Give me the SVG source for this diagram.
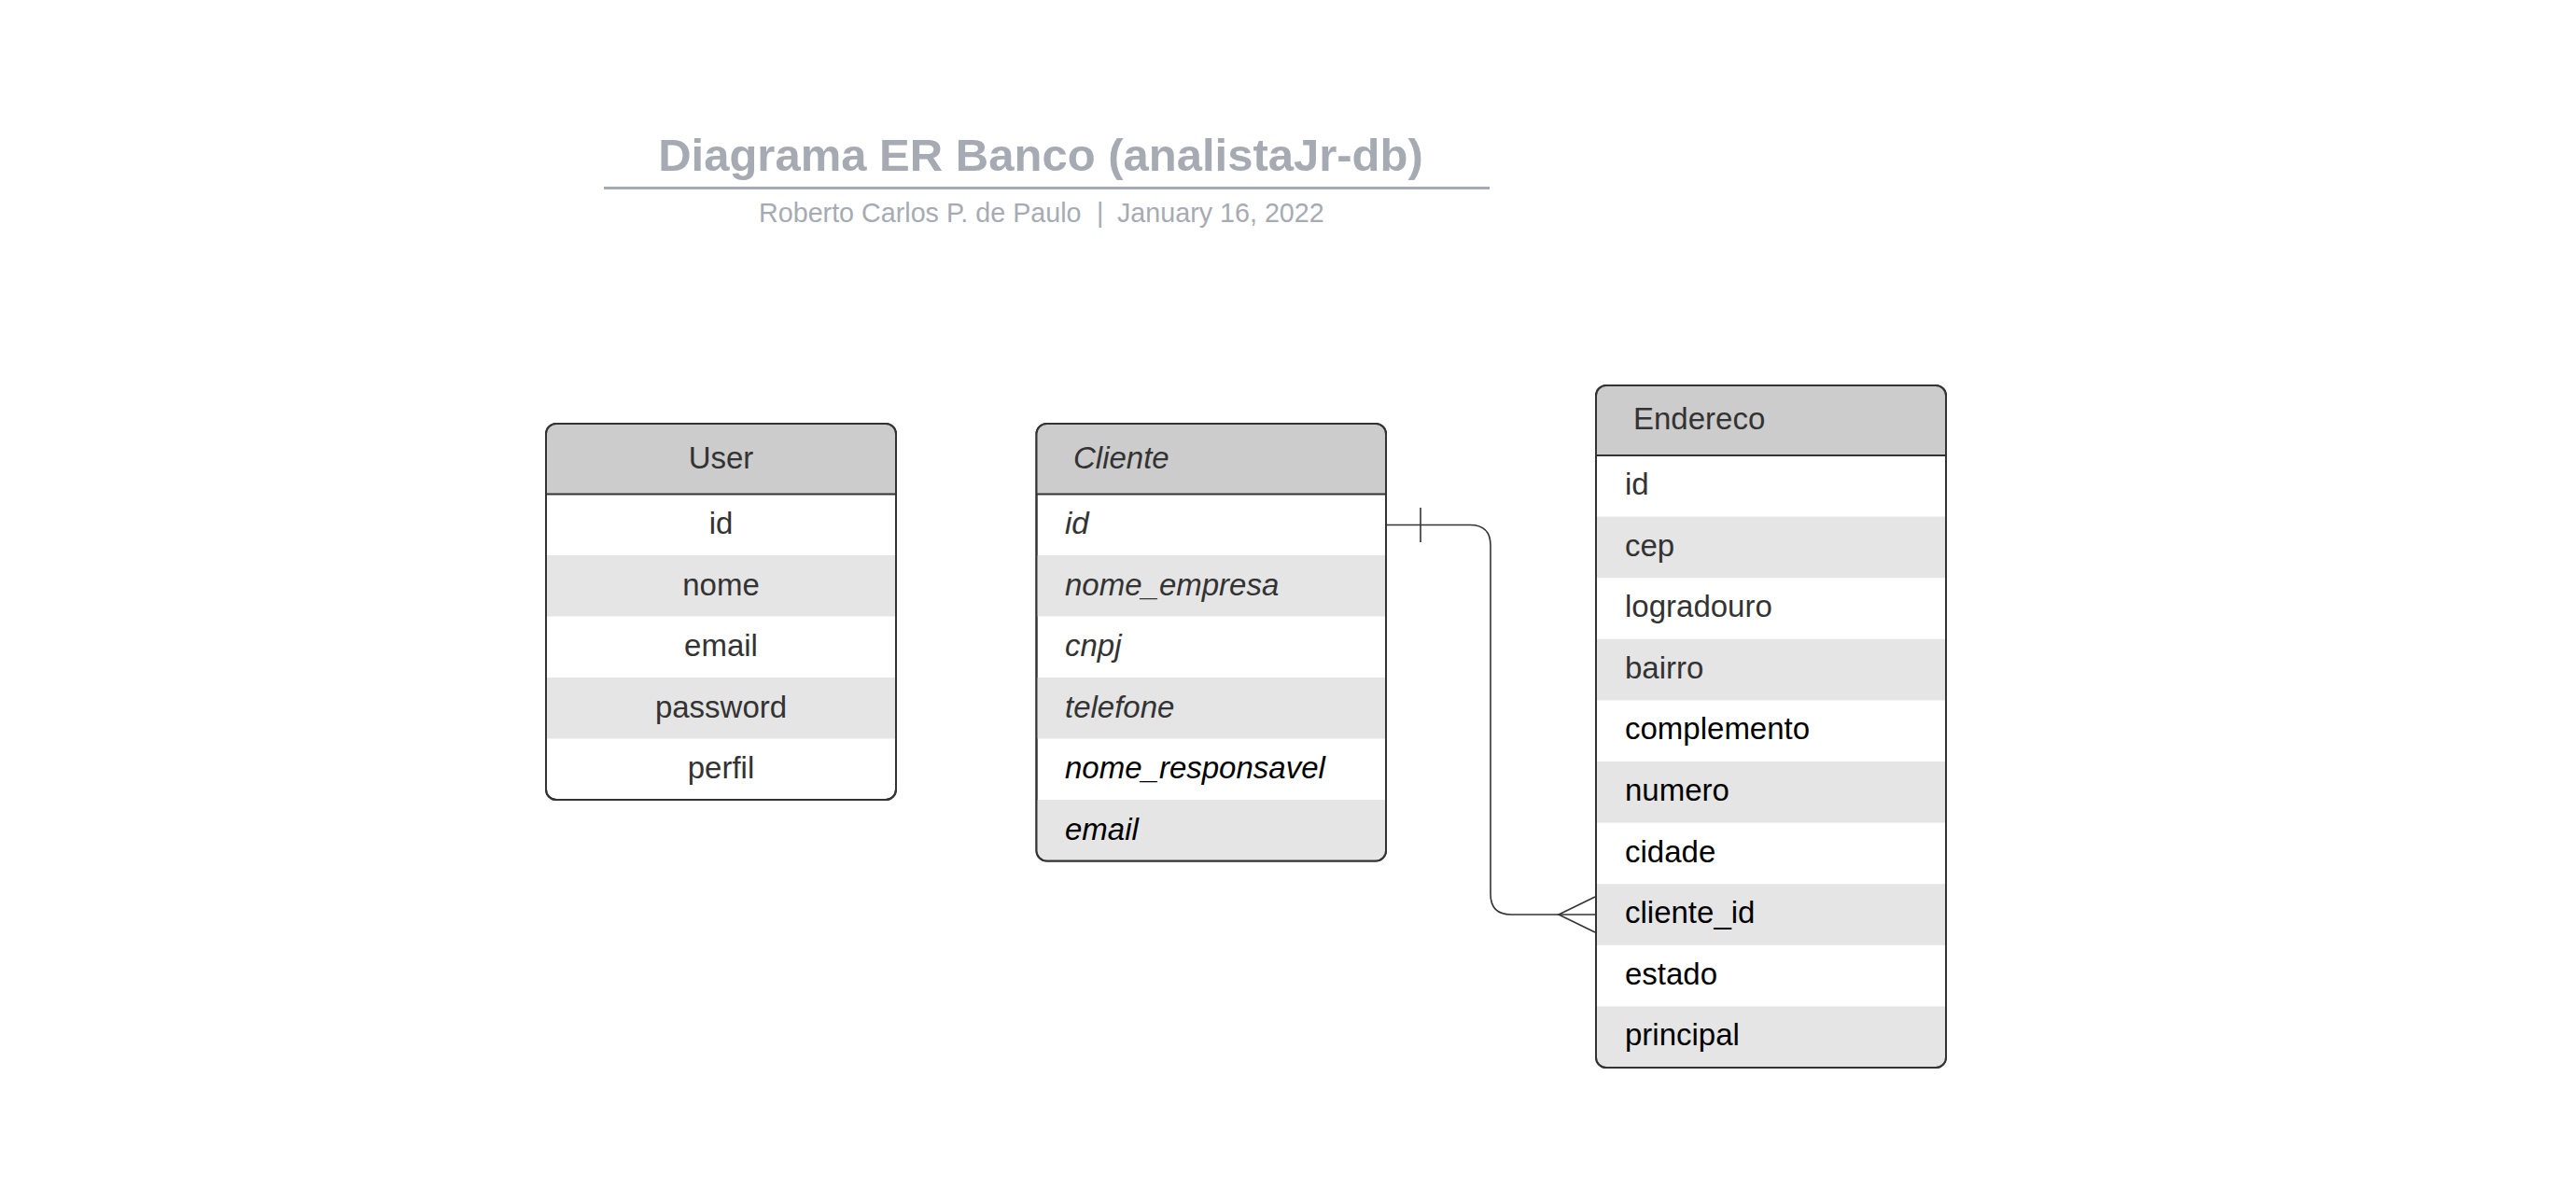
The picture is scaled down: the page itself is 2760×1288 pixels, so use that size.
<svg xmlns="http://www.w3.org/2000/svg" width="2760" height="1288" viewBox="0 0 2760 1288">
<style>
  text { font-family: "Liberation Sans", Arial, sans-serif; }
  .title { font-size: 49px; font-weight: bold; fill: #a6abb3; }
  .sub { font-size: 28.7px; fill: #a6abb3; }
  .frame { fill: #ffffff; stroke: #333333; stroke-width: 2; }
  .head { fill: #cccccc; }
  .alt { fill: #e5e5e5; }
  .sep { stroke: #333333; stroke-width: 2; }
  .t { font-size: 33px; fill: #333333; }
  .k { font-size: 33px; fill: #000000; }
  .i { font-style: italic; }
  .c { text-anchor: middle; }
  .conn { fill: none; stroke: #333333; stroke-width: 1.6; }
</style>
<rect width="2760" height="1288" fill="#ffffff"/>

<g id="title">
  <text class="title c" x="1115" y="183">Diagrama ER Banco (analistaJr-db)</text>
  <line x1="647" y1="201.5" x2="1596" y2="201.5" stroke="#a6abb3" stroke-width="3"/>
  <text class="sub"><tspan x="813" y="238">Roberto Carlos P. de Paulo</tspan><tspan x="1175" y="238">|</tspan><tspan x="1197" y="238">January 16, 2022</tspan></text>
</g>

<defs>
  <clipPath id="cu"><rect x="585" y="454" width="375" height="403" rx="11"/></clipPath>
  <clipPath id="cc"><rect x="1110.5" y="454" width="374.5" height="468.5" rx="11"/></clipPath>
  <clipPath id="ce"><rect x="1711" y="413" width="374" height="731" rx="11"/></clipPath>
</defs>

<g id="user">
  <rect class="frame" x="585" y="454" width="375" height="403" rx="11"/>
  <g clip-path="url(#cu)">
    <rect class="head" x="585" y="454" width="375" height="75.5"/>
    <rect class="alt" x="585" y="595" width="375" height="65.5"/>
    <rect class="alt" x="585" y="726" width="375" height="65.5"/>
  </g>
  <line class="sep" x1="585" y1="529.5" x2="960" y2="529.5"/>
  <rect x="585" y="454" width="375" height="403" rx="11" fill="none" stroke="#333333" stroke-width="2"/>
  <text class="t c" x="772.5" y="502">User</text>
  <text class="t c" x="772.5" y="572">id</text>
  <text class="t c" x="772.5" y="638">nome</text>
  <text class="t c" x="772.5" y="703">email</text>
  <text class="t c" x="772.5" y="769">password</text>
  <text class="t c" x="772.5" y="834">perfil</text>
</g>

<g id="cliente">
  <rect class="frame" x="1110.5" y="454" width="374.5" height="468.5" rx="11"/>
  <g clip-path="url(#cc)">
    <rect class="head" x="1110.5" y="454" width="374.5" height="75.5"/>
    <rect class="alt" x="1110.5" y="595" width="374.5" height="65.5"/>
    <rect class="alt" x="1110.5" y="726" width="374.5" height="65.5"/>
    <rect class="alt" x="1110.5" y="857" width="374.5" height="65.5"/>
  </g>
  <line class="sep" x1="1110.5" y1="529.5" x2="1485" y2="529.5"/>
  <rect x="1110.5" y="454" width="374.5" height="468.5" rx="11" fill="none" stroke="#333333" stroke-width="2"/>
  <text class="t i" x="1150" y="502">Cliente</text>
  <text class="t i" x="1141" y="572">id</text>
  <text class="t i" x="1141" y="638">nome_empresa</text>
  <text class="t i" x="1141" y="703">cnpj</text>
  <text class="t i" x="1141" y="769">telefone</text>
  <text class="k i" x="1141" y="834">nome_responsavel</text>
  <text class="k i" x="1141" y="900">email</text>
</g>

<g id="endereco">
  <rect class="frame" x="1710" y="413" width="375" height="731" rx="11"/>
  <g clip-path="url(#ce)">
    <rect class="head" x="1710" y="413" width="375" height="75"/>
    <rect class="alt" x="1710" y="553.6" width="375" height="65.6"/>
    <rect class="alt" x="1710" y="684.8" width="375" height="65.6"/>
    <rect class="alt" x="1710" y="816" width="375" height="65.6"/>
    <rect class="alt" x="1710" y="947.2" width="375" height="65.6"/>
    <rect class="alt" x="1710" y="1078.4" width="375" height="65.6"/>
  </g>
  <line class="sep" x1="1710" y1="488" x2="2085" y2="488"/>
  <rect x="1710" y="413" width="375" height="731" rx="11" fill="none" stroke="#333333" stroke-width="2"/>
  <text class="t" x="1750" y="460">Endereco</text>
  <text class="t" x="1741" y="530">id</text>
  <text class="t" x="1741" y="596">cep</text>
  <text class="t" x="1741" y="661">logradouro</text>
  <text class="t" x="1741" y="727">bairro</text>
  <text class="k" x="1741" y="792">complemento</text>
  <text class="k" x="1741" y="858">numero</text>
  <text class="k" x="1741" y="924">cidade</text>
  <text class="k" x="1741" y="989">cliente_id</text>
  <text class="k" x="1741" y="1055">estado</text>
  <text class="k" x="1741" y="1120">principal</text>
</g>

<g id="connectors">
  <path class="conn" d="M1486 562.5 H1575 Q1597 562.5 1597 584.5 V958 Q1597 980 1619 980 H1709"/>
  <line class="conn" x1="1522" y1="544" x2="1522" y2="581"/>
  <path class="conn" d="M1709 961 L1670 980 L1709 999"/>
</g>
</svg>
